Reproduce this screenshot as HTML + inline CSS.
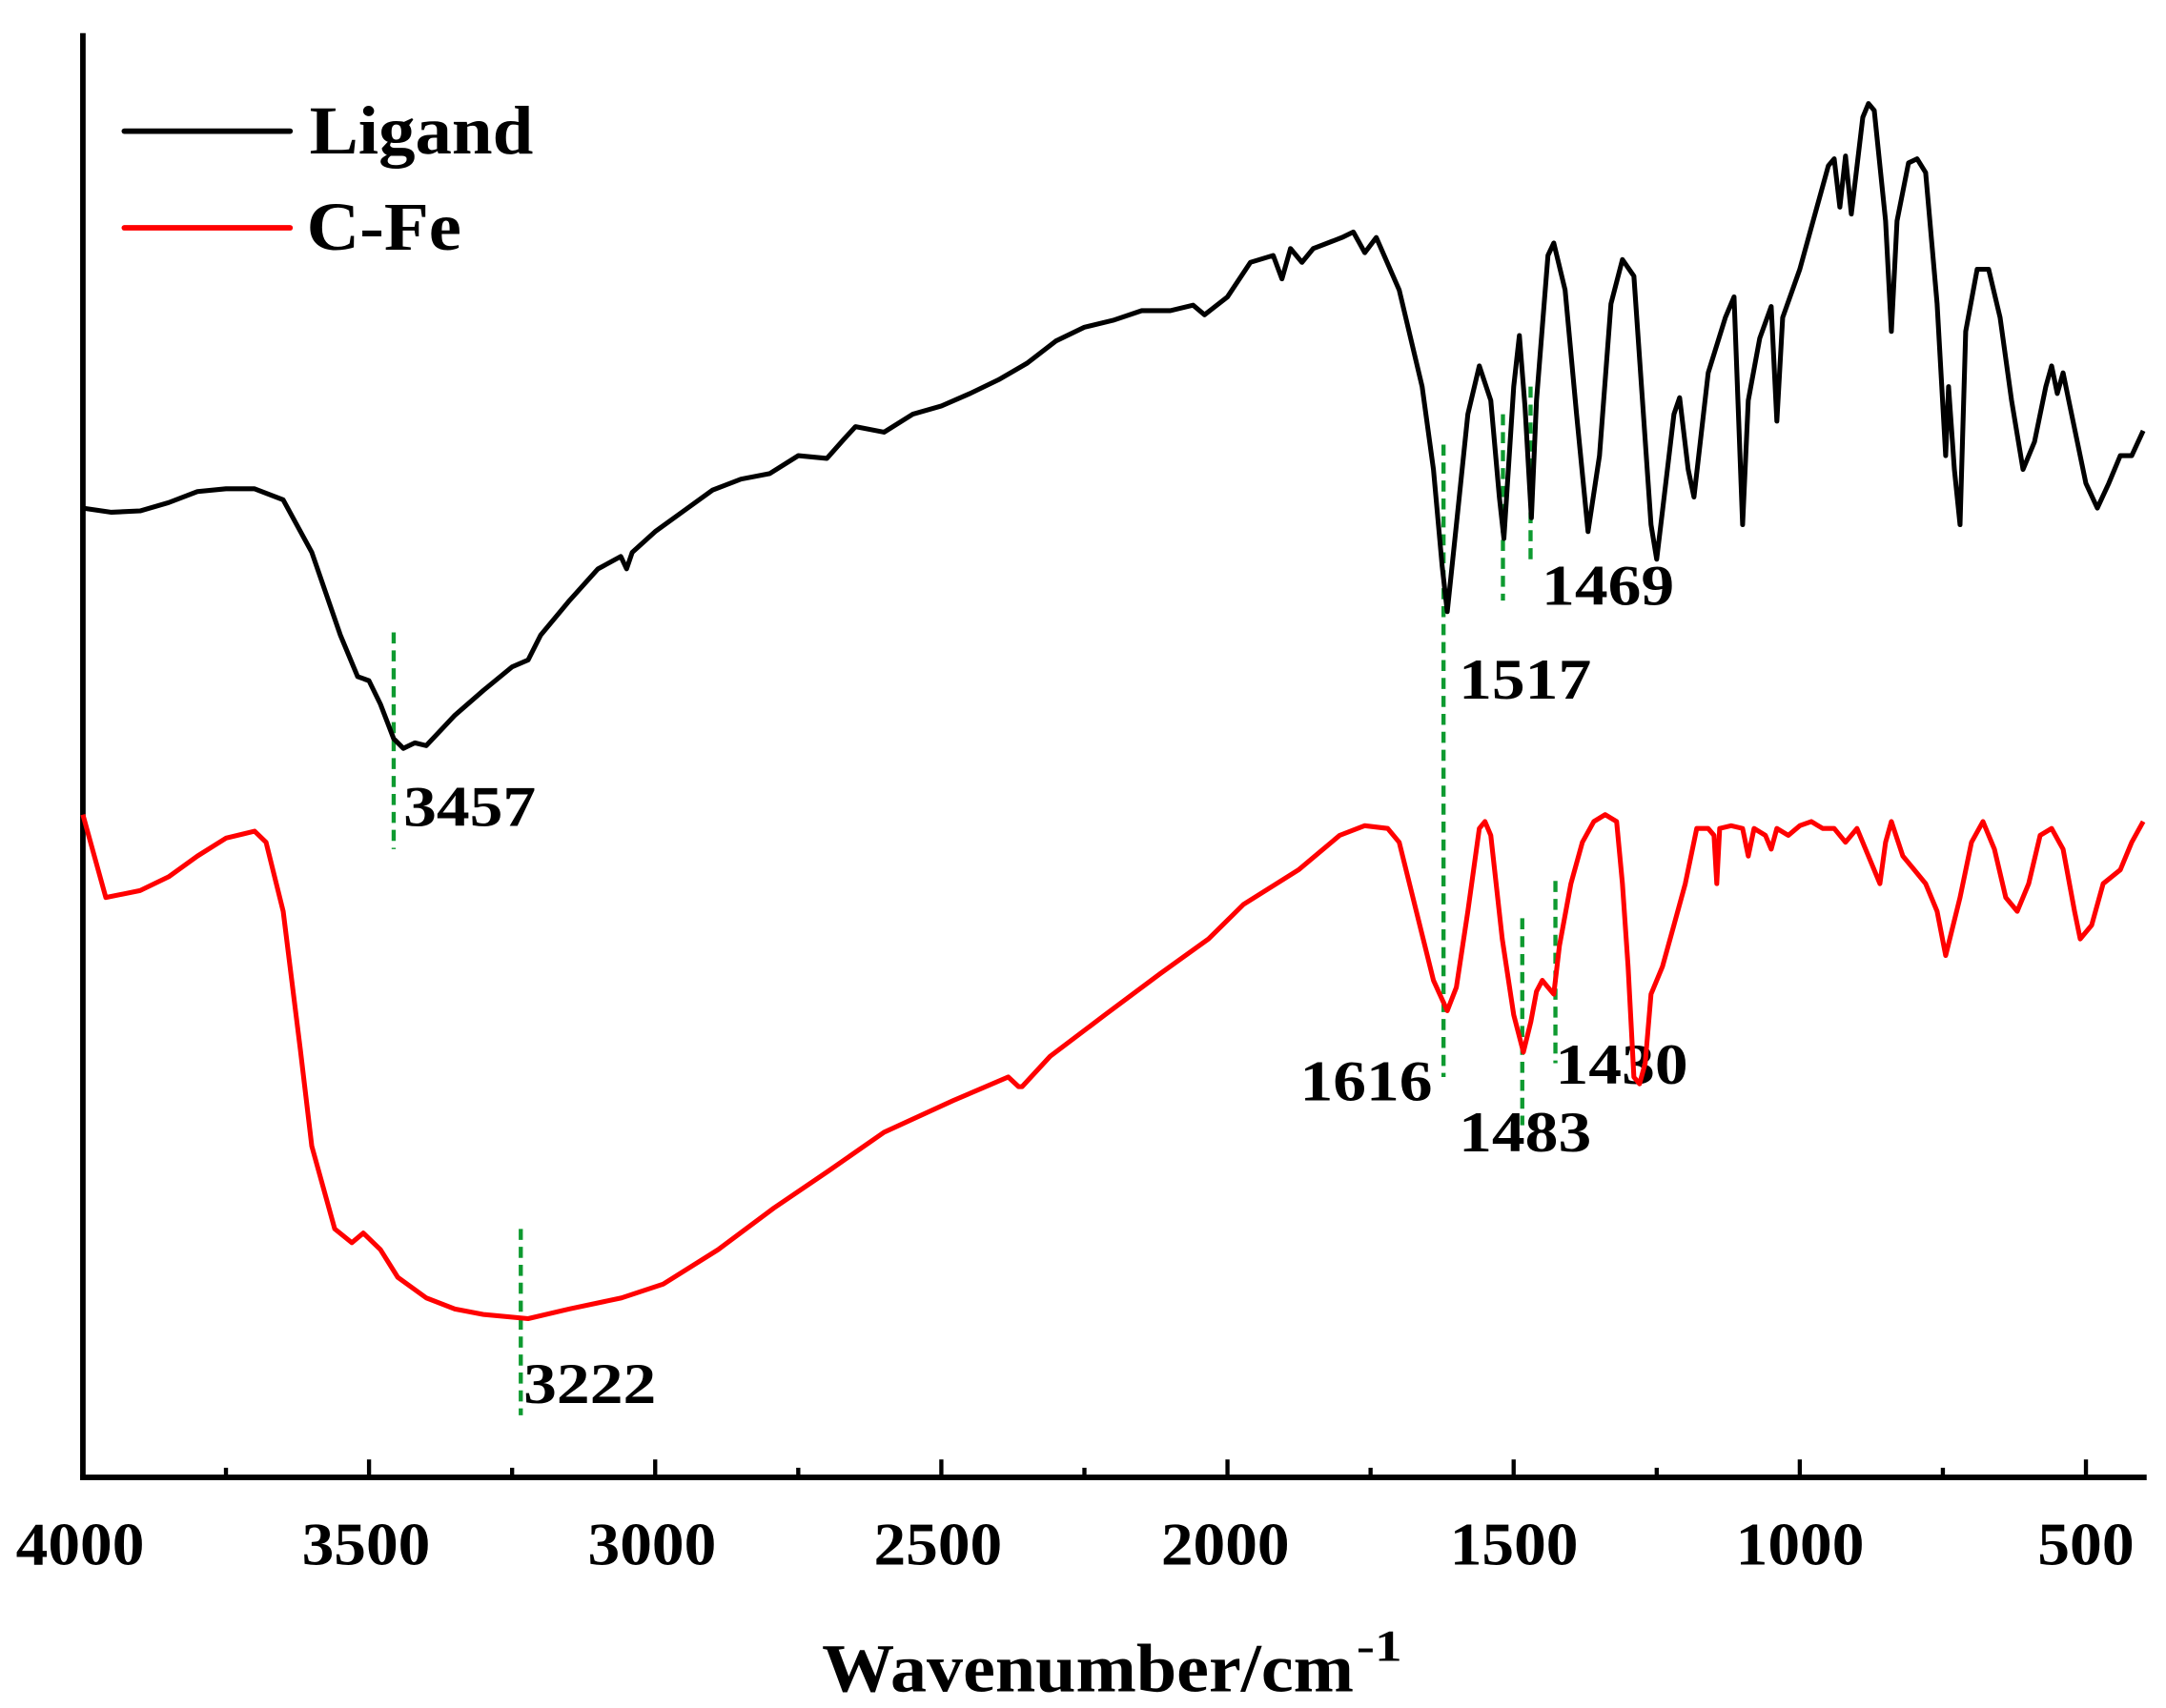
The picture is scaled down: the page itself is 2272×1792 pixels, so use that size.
<!DOCTYPE html>
<html><head><meta charset="utf-8"><style>html,body{margin:0;padding:0;background:#fff}svg{display:block}</style></head>
<body>
<svg id="s" width="2272" height="1792" viewBox="0 0 1568 1237" preserveAspectRatio="none" xmlns="http://www.w3.org/2000/svg" font-family="Liberation Serif, serif" font-weight="bold">
<g id="ticks" stroke="#000" stroke-width="3"></g>
<line x1="60" y1="24" x2="60" y2="1071" stroke="#000" stroke-width="4"/>
<line x1="58" y1="1070" x2="1554" y2="1070" stroke="#000" stroke-width="4"/>
<g font-size="44" text-anchor="middle">
<text x="58" y="1133" textLength="93" lengthAdjust="spacingAndGlyphs">4000</text><text x="265" y="1133" textLength="93" lengthAdjust="spacingAndGlyphs">3500</text><text x="472" y="1133" textLength="93" lengthAdjust="spacingAndGlyphs">3000</text><text x="679" y="1133" textLength="93" lengthAdjust="spacingAndGlyphs">2500</text><text x="887" y="1133" textLength="93" lengthAdjust="spacingAndGlyphs">2000</text><text x="1096" y="1133" textLength="93" lengthAdjust="spacingAndGlyphs">1500</text><text x="1303" y="1133" textLength="93" lengthAdjust="spacingAndGlyphs">1000</text><text x="1510" y="1133" textLength="70" lengthAdjust="spacingAndGlyphs">500</text>
</g>
<text x="595" y="1225" font-size="50" textLength="385" lengthAdjust="spacingAndGlyphs">Wavenumber/cm</text><text x="982" y="1203" font-size="32" textLength="33" lengthAdjust="spacingAndGlyphs">-1</text>
<line x1="90" y1="95" x2="210" y2="95" stroke="#000" stroke-width="4" stroke-linecap="round"/>
<text x="224" y="111" font-size="50" textLength="162" lengthAdjust="spacingAndGlyphs">Ligand</text>
<line x1="90" y1="165" x2="210" y2="165" stroke="#f00" stroke-width="4" stroke-linecap="round"/>
<text x="222" y="181" font-size="50" textLength="112" lengthAdjust="spacingAndGlyphs">C-Fe</text>
<g stroke="#0e9a30" stroke-width="3" stroke-dasharray="8,5">
<line x1="285" y1="458" x2="285" y2="615"/><line x1="377" y1="890" x2="377" y2="1025"/>
<line x1="1045" y1="322" x2="1045" y2="780"/><line x1="1088" y1="300" x2="1088" y2="435"/>
<line x1="1108" y1="280" x2="1108" y2="410"/><line x1="1102" y1="665" x2="1102" y2="815"/>
<line x1="1126" y1="638" x2="1126" y2="770"/>
</g>
<g font-size="42">
<text x="292" y="598" textLength="96" lengthAdjust="spacingAndGlyphs">3457</text><text x="1056" y="506" textLength="96" lengthAdjust="spacingAndGlyphs">1517</text><text x="1116" y="438" textLength="96" lengthAdjust="spacingAndGlyphs">1469</text>
<text x="379" y="1016" textLength="96" lengthAdjust="spacingAndGlyphs">3222</text><text x="941" y="797" textLength="96" lengthAdjust="spacingAndGlyphs">1616</text><text x="1056" y="834" textLength="96" lengthAdjust="spacingAndGlyphs">1483</text><text x="1126" y="785" textLength="96" lengthAdjust="spacingAndGlyphs">1430</text>
</g>
<polyline id="lig" fill="none" stroke="#000" stroke-width="3.5" stroke-linejoin="round"/>
<polyline id="cfe" fill="none" stroke="#f00" stroke-width="3.5" stroke-linejoin="round"/>
</svg>
<script>
function X(w){return 60+(4000-w)*0.4143;}
var L=[4000,368,3950,371,3900,370,3850,364,3800,356,3750,354,3700,354,3650,362,3600,400,3550,460,3520,490,3500,493,3480,510,3457,535,3440,542,3420,538,3400,540,3350,518,3300,500,3250,483,3222,478,3200,460,3150,435,3100,412,3060,403,3050,412,3040,400,3000,385,2950,370,2900,355,2850,347,2800,343,2750,330,2700,332,2670,318,2650,309,2600,313,2550,300,2500,294,2450,285,2400,275,2350,263,2300,247,2250,237,2200,232,2150,225,2100,225,2060,221,2040,228,2000,215,1960,190,1920,185,1905,202,1890,180,1870,190,1850,180,1800,172,1780,168,1760,183,1740,172,1700,210,1660,280,1640,340,1625,410,1616,443,1600,380,1580,300,1560,265,1540,290,1525,360,1517,390,1500,280,1490,243,1480,295,1469,375,1460,290,1440,185,1430,176,1410,210,1390,300,1370,385,1350,330,1330,220,1310,188,1290,200,1275,290,1260,380,1250,405,1240,370,1220,300,1210,288,1195,340,1185,360,1160,270,1130,230,1115,215,1100,380,1090,290,1070,245,1050,222,1040,305,1030,230,1000,195,970,150,950,120,940,115,930,150,920,113,910,155,890,85,880,75,870,80,850,160,840,240,830,160,810,118,795,115,780,125,760,220,745,330,740,280,730,340,720,380,710,240,690,195,670,195,650,230,630,290,610,340,590,320,570,280,560,265,550,285,540,270,530,290,500,350,480,368,460,350,440,330,420,330,400,312];
var C=[4000,590,3960,650,3900,645,3850,635,3800,620,3750,607,3700,602,3680,610,3650,660,3620,760,3600,830,3560,890,3530,900,3510,893,3480,905,3450,925,3400,940,3350,948,3300,952,3222,955,3150,948,3059,940,2986,930,2890,905,2793,875,2697,848,2600,820,2479,797,2383,780,2365,787,2359,787,2310,765,2214,735,2117,705,2033,680,1972,655,1876,630,1804,605,1760,598,1720,600,1700,610,1670,660,1640,710,1616,732,1600,715,1580,660,1560,600,1550,595,1540,605,1520,680,1500,735,1483,762,1470,740,1460,718,1450,710,1440,715,1430,720,1420,685,1400,640,1380,610,1360,595,1340,590,1320,595,1310,640,1300,700,1290,780,1280,785,1270,770,1260,720,1240,700,1220,670,1200,640,1180,600,1160,600,1150,605,1145,640,1140,600,1120,598,1100,600,1090,620,1080,600,1060,605,1050,615,1040,600,1020,605,1000,598,980,595,960,600,940,600,920,610,900,600,880,620,860,640,850,610,840,595,820,620,800,630,780,640,760,660,745,692,735,675,720,650,700,610,680,595,660,615,640,650,620,660,600,640,580,605,560,600,540,615,520,660,510,680,490,670,470,640,440,630,420,610,400,595];
function pts(a){var s=[];for(var i=0;i<a.length;i+=2)s.push(X(a[i]).toFixed(1)+","+a[i+1]);return s.join(" ");}
document.getElementById('lig').setAttribute('points',pts(L));
document.getElementById('cfe').setAttribute('points',pts(C));
var t=document.getElementById('ticks'),h='';
for(var w=4000;w>=500;w-=250){var x=X(w),len=(w%500==0)?13:7;h+='<line x1="'+x+'" y1="1070" x2="'+x+'" y2="'+(1070-len)+'"/>';}
t.innerHTML=h;
</script>
</body></html>
